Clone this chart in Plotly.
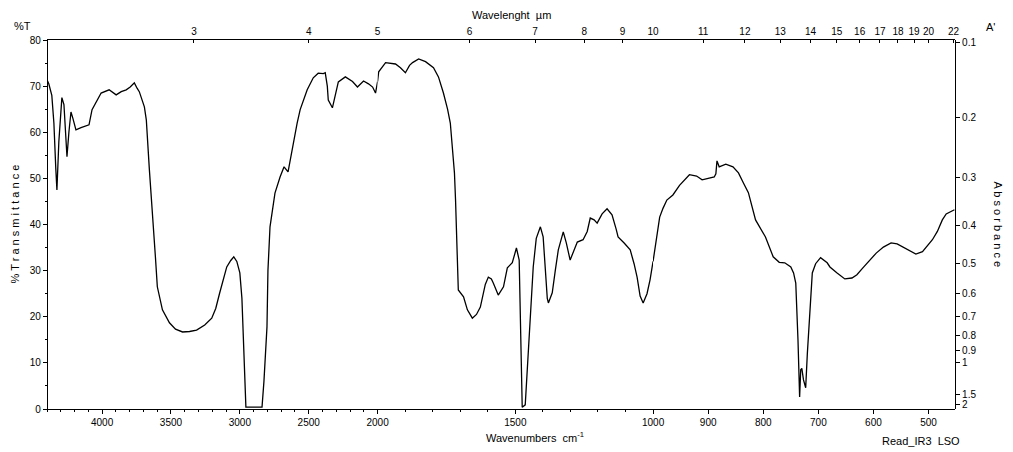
import numpy as np
import plotly.graph_objects as go

# ---------------- data ----------------
wavenumber = [4400, 4387, 4365, 4350, 4336, 4328, 4314, 4292, 4277, 4263, 4255, 4241, 4226, 4212, 4190,
              4153, 4095, 4073, 4044, 4007, 3949, 3898, 3861, 3825, 3796, 3766, 3745, 3730, 3693, 3679,
              3657, 3635, 3613, 3599, 3562, 3511, 3467, 3416, 3365, 3314, 3255, 3204, 3175, 3146, 3095,
              3066, 3044, 3022, 3000, 2985, 2978, 2964, 2956, 2839, 2825, 2803, 2796, 2781, 2745, 2708,
              2679, 2650, 2635, 2613, 2584, 2562, 2511, 2467, 2431, 2394, 2380, 2365, 2358, 2328, 2307,
              2285, 2234, 2182, 2146, 2102, 2066, 2036, 2015, 2000,
              1996, 1971, 1935, 1917, 1899, 1884, 1873, 1851, 1826, 1797, 1779, 1761, 1746, 1736, 1728,
              1721, 1717, 1714, 1707, 1688, 1674, 1656, 1641, 1627, 1609, 1598, 1587, 1580, 1562, 1543,
              1529, 1511, 1496, 1486, 1482, 1478, 1475, 1464, 1460, 1453, 1442, 1435, 1424, 1409, 1399,
              1391, 1384, 1380, 1366, 1355, 1344, 1326, 1315, 1301, 1286, 1275, 1254, 1239, 1228, 1214,
              1203, 1185, 1167, 1149, 1134, 1127, 1105, 1083, 1069, 1058, 1047, 1036, 1022, 1011, 1000,
              993, 988, 982, 975, 964, 952, 934, 921, 911, 898, 889, 886, 884, 880, 868, 855, 845, 836,
              827, 814, 805, 796, 782, 771, 761, 750, 745, 741, 737, 734, 732, 730, 727, 723, 720, 716,
              711, 705, 696, 684, 679, 666, 652, 639, 630, 620, 607, 595, 582, 568, 557, 546, 534, 523,
              511, 502, 493, 484, 475, 468, 460, 453]
transmittance = [71.4, 70.5, 68.0, 62.0, 52.0, 47.5, 58.0, 67.5, 66.0, 58.0, 54.7, 60.0, 64.4, 63.0, 60.5,
                 61.0, 61.6, 64.9, 66.5, 68.5, 69.2, 68.1, 68.8, 69.2, 69.8, 70.7, 69.5, 68.8, 65.5, 62.7,
                 52.0, 43.2, 33.0, 26.5, 21.5, 18.7, 17.3, 16.7, 16.8, 17.1, 18.2, 19.7, 21.8, 25.2, 30.8,
                 32.2, 33.0, 32.0, 29.5, 24.0, 17.8, 6.0, 0.4, 0.4, 6.0, 17.8, 30.0, 39.5, 46.8, 50.3,
                 52.5, 51.4, 54.0, 57.7, 62.0, 64.9, 69.2, 71.8, 72.8, 72.7, 72.9, 70.0, 67.0, 65.3, 68.0,
                 70.9, 72.0, 71.0, 69.8, 71.1, 70.5, 69.8, 68.5, 71.0,
                 73.1, 75.1, 74.8, 74.0, 72.9, 74.5, 75.1, 75.9, 75.3, 74.0, 72.0, 68.5, 65.0, 62.0, 57.0,
                 51.2, 45.3, 38.0, 25.8, 24.3, 21.5, 19.7, 20.5, 22.1, 27.0, 28.6, 28.2, 27.3, 24.7, 26.5,
                 30.6, 31.7, 34.9, 32.3, 20.0, 5.0, 0.4, 0.9, 5.0, 14.3, 25.0, 30.8, 37.0, 39.5, 37.3,
                 30.0, 24.0, 23.0, 25.2, 30.0, 34.5, 38.4, 36.0, 32.3, 34.5, 36.2, 36.7, 38.5, 41.4, 41.0,
                 40.3, 42.3, 43.4, 42.1, 39.0, 37.3, 36.0, 34.5, 31.5, 28.6, 24.5, 23.0, 25.0, 28.0, 32.0,
                 38.2, 41.6, 43.5, 45.3, 46.4, 48.5, 50.8, 50.5, 49.7, 50.0, 50.3, 51.0, 53.8, 52.5, 53.1,
                 52.5, 51.2, 49.0, 46.9, 41.0, 39.0, 37.3, 33.0, 31.8, 31.7, 30.8, 29.5, 27.3, 15.0, 2.6,
                 8.5, 8.8, 6.3, 4.6, 12.0, 20.8, 29.5, 31.5, 32.8, 31.7, 30.8, 29.5, 28.2, 28.4, 29.1,
                 30.5, 32.3, 33.8, 35.1, 36.0, 35.8, 35.1, 34.3, 33.6, 34.1, 35.3, 36.7, 38.5, 41.0, 42.3,
                 42.8, 43.2]

# axis ticks
wn_ticks_1 = [4000, 3500, 3000, 2500, 2000]
wn_ticks_2 = [1500, 1000]
wn_ticks_3 = [900, 800, 700, 600, 500]
wavelength_um = [3, 4, 5, 6, 7, 8, 9, 10, 11, 12, 13, 14, 15, 16, 17, 18, 19, 20, 22]
T_ticks = [0, 10, 20, 30, 40, 50, 60, 70, 80]
absorb_vals = [0.1, 0.2, 0.3, 0.4, 0.5, 0.6, 0.7, 0.8, 0.9, 1, 1.5, 2]
absorb_text = ["0.1", "0.2", "0.3", "0.4", "0.5", "0.6", "0.7", "0.8", "0.9", "1", "1.5", "2"]

# ---------------- figure ----------------
wn = np.array(wavenumber, dtype=float)
tr = np.array(transmittance, dtype=float)

ranges = [(4400, 2000), (2000, 1000), (1000, 452)]
widths = [r[0] - r[1] for r in ranges]
scale = [1, 2, 4]
px = [w * s for w, s in zip(widths, scale)]
tot = sum(px)
edges = np.concatenate([[0], np.cumsum(px) / tot])

FONT = "Liberation Sans"
fig = go.Figure()
names = ["x", "x2", "x3"]
for i, (hi, lo) in enumerate(ranges):
    m = (wn <= hi) & (wn >= lo)
    fig.add_trace(go.Scatter(x=wn[m], y=tr[m], mode="lines",
                             line=dict(color="black", width=1.3),
                             xaxis=names[i], yaxis="y", showlegend=False,
                             hoverinfo="x+y"))
    # invisible companions so the top (wavelength) axes are drawn
    fig.add_trace(go.Scatter(x=wn[m], y=tr[m], mode="lines", line=dict(width=0),
                             opacity=0, xaxis=f"x{i+4}", yaxis="y",
                             showlegend=False, hoverinfo="skip"))
# invisible companion for the absorbance axis
m = (wn <= 1000)
fig.add_trace(go.Scatter(x=wn[m], y=tr[m], mode="lines", line=dict(width=0), opacity=0,
                         xaxis="x3", yaxis="y2", showlegend=False, hoverinfo="skip"))

axis_common = dict(showline=True, linecolor="black", linewidth=1.2, showgrid=False,
                   zeroline=False, ticks="outside", ticklen=4, tickcolor="black",
                   tickfont=dict(family=FONT, size=10, color="black"))
bottom_ticks = [wn_ticks_1, wn_ticks_2, wn_ticks_3]
minor_sets = [[v for v in range(4400, 1999, -100)], [v for v in range(2000, 999, -100)], []]
um_wn = [1e4 / u for u in wavelength_um]
layout_axes = {}
for i, (hi, lo) in enumerate(ranges):
    key = "xaxis" if i == 0 else f"xaxis{i+1}"
    tv = bottom_ticks[i]
    layout_axes[key] = dict(axis_common, domain=[edges[i], edges[i + 1]], range=[hi, lo],
                            anchor="y", tickmode="array", tickvals=tv,
                            ticktext=[str(v) for v in tv],
                            minor=dict(tickvals=minor_sets[i], ticklen=2, ticks="outside",
                                       tickcolor="black"))
    # top wavelength axis
    sel = [(w, u) for w, u in zip(um_wn, wavelength_um) if (lo <= w <= hi)]
    if i == 0:
        sel = [(w, u) for (w, u) in sel if w > 2000.5]
    if i == 1:
        sel = [(w, u) for (w, u) in sel if w > 1000.5]
    tkey = f"xaxis{i+4}"
    layout_axes[tkey] = dict(axis_common, overlaying=names[i], side="top", anchor="y",
                             range=[hi, lo], tickmode="array",
                             tickvals=[w for w, u in sel], ticktext=[str(u) for w, u in sel],
                             ticks="inside", ticklen=3)

fig.update_layout(**layout_axes)
# the page adds an 8px body margin, so the figure is 8px smaller and margins shifted
fig.update_layout(
    width=1005, height=444,
    margin=dict(l=39, r=58, t=32, b=43),
    paper_bgcolor="white", plot_bgcolor="white",
    yaxis=dict(axis_common, range=[0, 80], anchor="free", position=0,
               tickmode="array", tickvals=T_ticks, ticklen=4,
               minor=dict(tickvals=[5, 15, 25, 35, 45, 55, 65, 75], ticklen=2,
                          ticks="outside", tickcolor="black")),
    yaxis2=dict(axis_common, range=[0, 80], overlaying="y", side="right", anchor="free",
                position=1, tickmode="array",
                tickvals=[100 * 10 ** (-a) for a in absorb_vals],
                ticktext=absorb_text, ticklen=4),
)

ann_font = dict(family=FONT, size=11, color="black")


def note(text, x, y, xshift=0, yshift=0, angle=0, xanchor="center"):
    fig.add_annotation(text=text, xref="paper", yref="paper", x=x, y=y, xshift=xshift,
                       yshift=yshift, textangle=angle, showarrow=False, font=ann_font,
                       xanchor=xanchor, yanchor="middle")


note("%T", 0, 1, xshift=-25, yshift=14)
note("% T r a n s m i t t a n c e", 0, 0.5, xshift=-33, angle=-90)
note("A b s o r b a n c e", 1, 0.5, xshift=43, angle=90)
note("A'", 1, 1, xshift=35, yshift=13)
note("Wavelenght  \u00b5m", 0.512, 1, yshift=25)
note("Wavenumbers  cm<sup>-1</sup>", 0.537, 0, yshift=-28)
note("Read_IR3  LSO", 1, 0, xshift=7, yshift=-32, xanchor="right")

fig.write_html("out.html")
